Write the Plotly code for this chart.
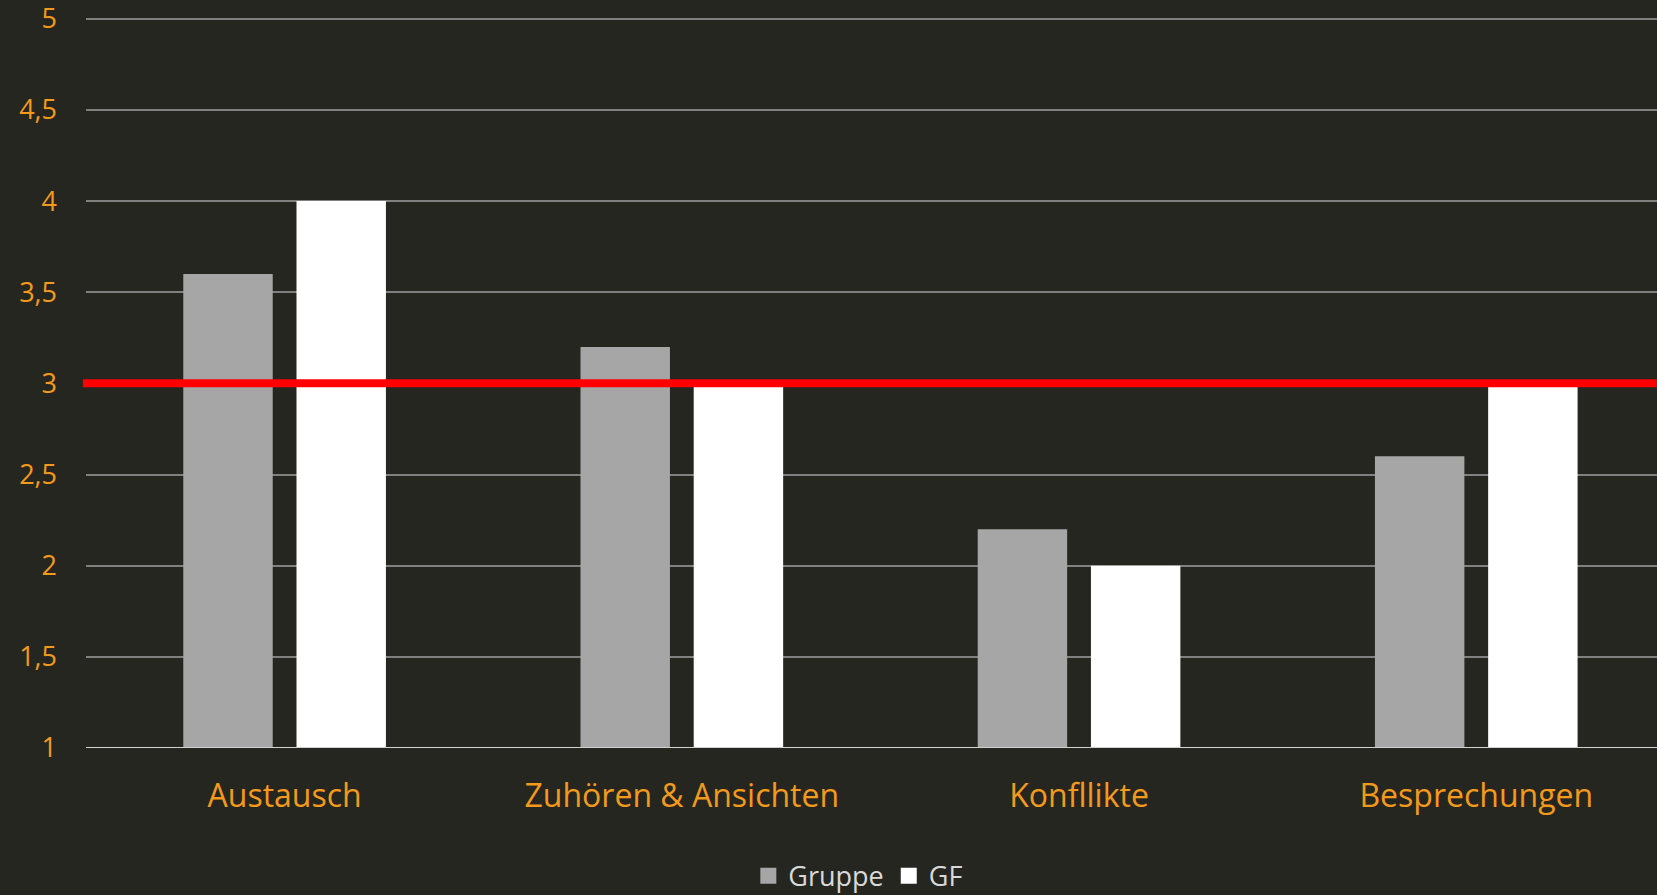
import plotly.graph_objects as go

categories = ["Austausch", "Zuhören & Ansichten", "Konfllikte", "Besprechungen"]
gruppe = [3.6, 3.2, 2.2, 2.6]
gf = [4.0, 3.0, 2.0, 3.0]
threshold = 3
yticks = [1, 1.5, 2, 2.5, 3, 3.5, 4, 4.5, 5]

BG = "#262621"
ORANGE = "#F39A1C"
C_GRUPPE = "#a6a6a6"
C_GF = "#ffffff"

fig = go.Figure()
fig.add_trace(go.Bar(name="Gruppe", x=categories, y=[v - 1 for v in gruppe], base=1,
                     marker=dict(color=C_GRUPPE, line=dict(width=0)), showlegend=False))
fig.add_trace(go.Bar(name="GF", x=categories, y=[v - 1 for v in gf], base=1,
                     marker=dict(color=C_GF, line=dict(width=0)), showlegend=False))
# legend entries with larger square symbols
for name, col in [("Gruppe", C_GRUPPE), ("GF", C_GF)]:
    fig.add_trace(go.Scatter(name=name, x=[None], y=[None], mode="markers",
                             marker=dict(symbol="square", size=18, color=col)))

fig.add_shape(type="line", xref="paper", yref="y", x0=-0.002, x1=1, y0=threshold, y1=threshold,
              line=dict(color="#ff0000", width=8), layer="above")

fig.update_layout(
    width=1657, height=895,
    paper_bgcolor=BG, plot_bgcolor=BG,
    margin=dict(l=86, r=0, t=16, b=147, autoexpand=False),
    barmode="group", bargap=0.43, bargroupgap=0.21,
    font=dict(family="Open Sans, Carlito, sans-serif", color=ORANGE),
    showlegend=True,
    legend=dict(orientation="h", x=0.518, xanchor="center", xref="container",
                y=0.021, yanchor="middle", yref="container",
                font=dict(size=27, color="#d9d9d9"), itemwidth=30, traceorder="normal",
                bgcolor="rgba(0,0,0,0)", itemclick=False, tracegroupgap=0),
    xaxis=dict(range=[-0.5, 3.455], showgrid=False, showline=False, zeroline=False,
               tickfont=dict(size=32, color=ORANGE), ticks="", ticklabelstandoff=26),
    yaxis=dict(range=[1, 5.015], tickvals=yticks, ticktext=[str(t).replace(".", ",") for t in yticks],
               showgrid=True, gridcolor="#808080", gridwidth=2, zeroline=False, showline=False,
               tickfont=dict(size=27, color=ORANGE), ticks="", ticklabelstandoff=28,
               ticklabeloverflow="allow"),
)

fig.add_shape(type="line", xref="paper", yref="y", x0=0, x1=1, y0=1, y1=1,
              line=dict(color="#d0d0d0", width=2), layer="above")

fig.write_html("out.html", config={"displayModeBar": False},
               post_script="document.body.style.margin='0';document.body.style.overflow='hidden';")
